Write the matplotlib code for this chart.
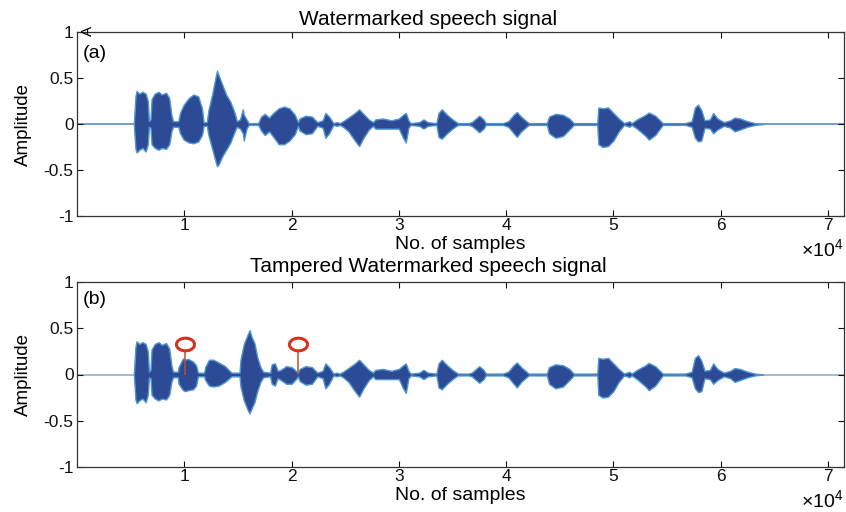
import numpy as np
import matplotlib
matplotlib.use("Agg")
import matplotlib.pyplot as plt
from matplotlib.path import Path

plt.rcParams['font.family'] = ['Liberation Sans', 'DejaVu Sans']
plt.rcParams['mathtext.fontset'] = 'custom'
plt.rcParams['mathtext.rm'] = 'Liberation Sans'

# ---- envelope of the watermarked signal (sample index, upper, lower) ----
env_x = [5300, 5450, 5550, 5800, 6100, 6400, 6600, 6700, 6850, 6950, 7250, 7600, 7900,
         8300, 8600, 8800, 8950, 9450, 9600, 9950, 10400, 10850, 11300, 11650, 11800,
         12100, 12250, 12600, 12900, 13050, 13200, 13500, 13900, 14300, 14700, 14900,
         15200, 15450, 15550, 15800, 16000, 16900, 17150, 17500, 17900, 18300, 18800,
         19300, 19800, 20300, 20600, 20750, 21300, 21900, 22400, 22900, 23150, 23500,
         23900, 24200, 24500, 24800, 25300, 25900, 26300, 26700, 27200, 27600, 27800,
         28500, 29300, 30000, 30400, 30650, 30900, 31100, 31900, 32300, 32700, 33500,
         33700, 34000, 34500, 35000, 35500, 36500, 36800, 37200, 37500, 37900, 38100,
         39700, 40200, 40700, 41000, 41400, 42100, 43800, 44000, 44600, 45300, 45900,
         46300, 48500, 48600, 49000, 49500, 50000, 50500, 51000, 51500, 51700, 52200,
         53000, 53300, 53900, 54600, 56700, 57300, 57600, 57900, 58200, 58500, 59000,
         59300, 59700, 60300, 60900, 61300, 61800, 62500, 63200, 64000]
env_top = [0.005, 0.30, 0.36, 0.33, 0.35, 0.33, 0.25, 0.03, 0.05, 0.27, 0.33, 0.35, 0.32,
           0.34, 0.28, 0.10, 0.03, 0.03, 0.12, 0.21, 0.28, 0.32, 0.30, 0.17, 0.02,
           0.02, 0.15, 0.32, 0.50, 0.58, 0.53, 0.44, 0.32, 0.24, 0.12, 0.03,
           0.05, 0.16, 0.10, 0.05, 0.01, 0.01, 0.08, 0.11, 0.07, 0.12, 0.17,
           0.19, 0.17, 0.10, 0.02, 0.06, 0.09, 0.08, 0.02, 0.04, 0.12, 0.08,
           0.01, 0.02, 0.01, 0.03, 0.07, 0.12, 0.16, 0.11, 0.05, 0.02, 0.05,
           0.06, 0.04, 0.06, 0.10, 0.12, 0.04, 0.01, 0.02, 0.05, 0.02, 0.01,
           0.12, 0.16, 0.10, 0.05, 0.01, 0.01, 0.02, 0.06, 0.09, 0.05, 0.01,
           0.01, 0.03, 0.10, 0.13, 0.08, 0.01, 0.01, 0.08, 0.11, 0.10, 0.06,
           0.01, 0.01, 0.18, 0.17, 0.18, 0.12, 0.06, 0.01, 0.03, 0.01, 0.05,
           0.10, 0.125, 0.09, 0.01, 0.01, 0.03, 0.18, 0.21, 0.15, 0.04, 0.05,
           0.12, 0.06, 0.02, 0.04, 0.07, 0.06, 0.03, 0.01, 0.0]
env_bot = [-0.005, -0.27, -0.31, -0.28, -0.26, -0.30, -0.22, -0.03, -0.04, -0.22, -0.26, -0.28, -0.26,
           -0.27, -0.22, -0.08, -0.03, -0.03, -0.10, -0.17, -0.20, -0.21, -0.19, -0.12, -0.02,
           -0.02, -0.12, -0.27, -0.40, -0.46, -0.44, -0.36, -0.28, -0.20, -0.08, -0.03,
           -0.05, -0.10, -0.18, -0.05, -0.01, -0.01, -0.07, -0.12, -0.08, -0.14, -0.22,
           -0.22, -0.18, -0.11, -0.02, -0.07, -0.11, -0.10, -0.02, -0.04, -0.15, -0.10,
           -0.01, -0.02, -0.01, -0.03, -0.08, -0.18, -0.24, -0.15, -0.06, -0.02, -0.05,
           -0.05, -0.05, -0.05, -0.15, -0.20, -0.04, -0.01, -0.02, -0.05, -0.02, -0.01,
           -0.14, -0.16, -0.10, -0.05, -0.01, -0.01, -0.02, -0.06, -0.09, -0.05, -0.01,
           -0.01, -0.03, -0.10, -0.14, -0.08, -0.01, -0.01, -0.10, -0.15, -0.13, -0.06,
           -0.01, -0.01, -0.22, -0.25, -0.24, -0.18, -0.08, -0.01, -0.03, -0.01, -0.05,
           -0.13, -0.17, -0.12, -0.01, -0.01, -0.03, -0.15, -0.19, -0.18, -0.04, -0.05,
           -0.10, -0.06, -0.02, -0.04, -0.08, -0.06, -0.03, -0.01, 0.0]

# ---- tampered part (replaces samples 8950..20600 in panel b) ----
tamp_x = [8950, 9400, 9470, 9880, 10100, 10340, 10810, 11100, 11270, 11850, 11950, 12300,
          12700, 13200, 13800, 14300, 14400, 15150, 15240, 15550, 15900, 16080, 16300,
          16540, 16800, 17100, 17350, 18000, 18150, 18450, 18700, 19000, 19500, 20000, 20400]
tamp_top = [0.03, 0.03, 0.08, 0.175, 0.16, 0.17, 0.14, 0.10, 0.02, 0.02, 0.08, 0.16,
            0.16, 0.13, 0.09, 0.03, 0.02, 0.02, 0.16, 0.33, 0.43, 0.48, 0.40,
            0.34, 0.19, 0.08, 0.03, 0.02, 0.11, 0.12, 0.04, 0.05, 0.09, 0.08, 0.04]
tamp_bot = [-0.03, -0.03, -0.10, -0.17, -0.18, -0.17, -0.16, -0.12, -0.02, -0.02, -0.06, -0.12,
            -0.13, -0.12, -0.08, -0.03, -0.02, -0.02, -0.13, -0.28, -0.38, -0.42, -0.36,
            -0.30, -0.18, -0.08, -0.03, -0.02, -0.10, -0.12, -0.04, -0.06, -0.10, -0.10, -0.05]

# tamper markers
stem_x = [10030, 20630]
stem_y = [0.33, 0.33]

n_samples = 71500
xticks = [10000, 20000, 30000, 40000, 50000, 60000, 70000]
xticklabels = ['1', '2', '3', '4', '5', '6', '7']
yticks = [-1, -0.5, 0, 0.5, 1]
yticklabels = ['-1', '-0.5', '0', '0.5', '1']

# panel b envelope: original outside the tampered span, tampered inside
keep = [i for i, x in enumerate(env_x) if x < tamp_x[0] or x >= 20600]
b_x = np.array([env_x[i] for i in keep] + tamp_x)
b_top = np.array([env_top[i] for i in keep] + tamp_top)
b_bot = np.array([env_bot[i] for i in keep] + tamp_bot)
order = np.argsort(b_x)
b_x, b_top, b_bot = b_x[order], b_top[order], b_bot[order]

W, H = 846, 512
fig = plt.figure(figsize=(W / 100, H / 100), dpi=100)
fig.patch.set_facecolor('white')

fill_col = '#2D4A94'
edge_col = '#4F96D3'

# elliptical open-circle marker (figure was stretched horizontally)
t = np.linspace(0, 2 * np.pi, 60)
ell = Path(np.column_stack([np.cos(t), 0.7 * np.sin(t)]))


def px_axes(left, top, right, bottom):
    return [left / W, 1 - bottom / H, (right - left) / W, (bottom - top) / H]


def style(ax):
    ax.set_xlim(0, n_samples)
    ax.set_ylim(-1, 1)
    ax.set_xticks(xticks)
    ax.set_xticklabels(xticklabels)
    ax.set_yticks(yticks)
    ax.set_yticklabels(yticklabels)
    ax.tick_params(direction='in', top=True, right=True, length=4, width=0.8,
                   labelsize=12.5, pad=1.5, colors='#111111')
    ax.tick_params(axis='y', pad=2.5)
    for s in ax.spines.values():
        s.set_linewidth(0.9)
        s.set_color('#333333')


panels = [
    (px_axes(77, 32, 844, 216), np.array(env_x), np.array(env_top), np.array(env_bot),
     '#4A82BE', 'Watermarked speech signal', 25, '(a)', 54),
    (px_axes(77, 282, 844, 467), b_x, b_top, b_bot,
     '#8EA7BC', 'Tampered Watermarked speech signal', 272, '(b)', 299),
]

for i, (rect, ex, et, eb, zcol, title, title_y, tag, tag_y) in enumerate(panels):
    ax = fig.add_axes(rect)
    ax.plot([0, n_samples], [0, 0], color=zcol, lw=1.1, zorder=1)
    ax.fill_between(ex, eb, et, facecolor=fill_col, edgecolor=edge_col, lw=1.0, zorder=2)
    style(ax)

    if i == 1:
        ax.vlines(stem_x, 0, stem_y, color='#C0502A', lw=1.1, zorder=3)
        ax.plot(stem_x, stem_y, ls='none', marker=ell, markersize=13,
                markerfacecolor='white', markeredgecolor='#D2321E', mew=2.2, zorder=4)

    h_top = rect[1] + rect[3]
    bottom_px = (1 - rect[1]) * H
    fig.text(428 / W, 1 - title_y / H, title, ha='center', va='baseline', fontsize=15)
    fig.text(460.5 / W, 1 - (bottom_px + 33) / H, 'No. of samples',
             ha='center', va='baseline', fontsize=14)
    fig.text(843 / W, 1 - (bottom_px + 40) / H, r'$\mathregular{\times10^{4}}$',
             ha='right', va='baseline', fontsize=14)
    fig.text(23 / W, 1 - ((1 - h_top) * H + bottom_px) / 2 / H, 'Amplitude',
             rotation=90, ha='center', va='center', fontsize=13.5)
    fig.text(83 / W, 1 - tag_y / H, tag, ha='left', va='center', fontsize=14)

# small clipped label remnant at the top-left corner of panel (a)
fig.text(88 / W, 1 - 31 / H, 'A', rotation=90, ha='center', va='center', fontsize=11)

fig.savefig('out.png', dpi=100, facecolor='white')
